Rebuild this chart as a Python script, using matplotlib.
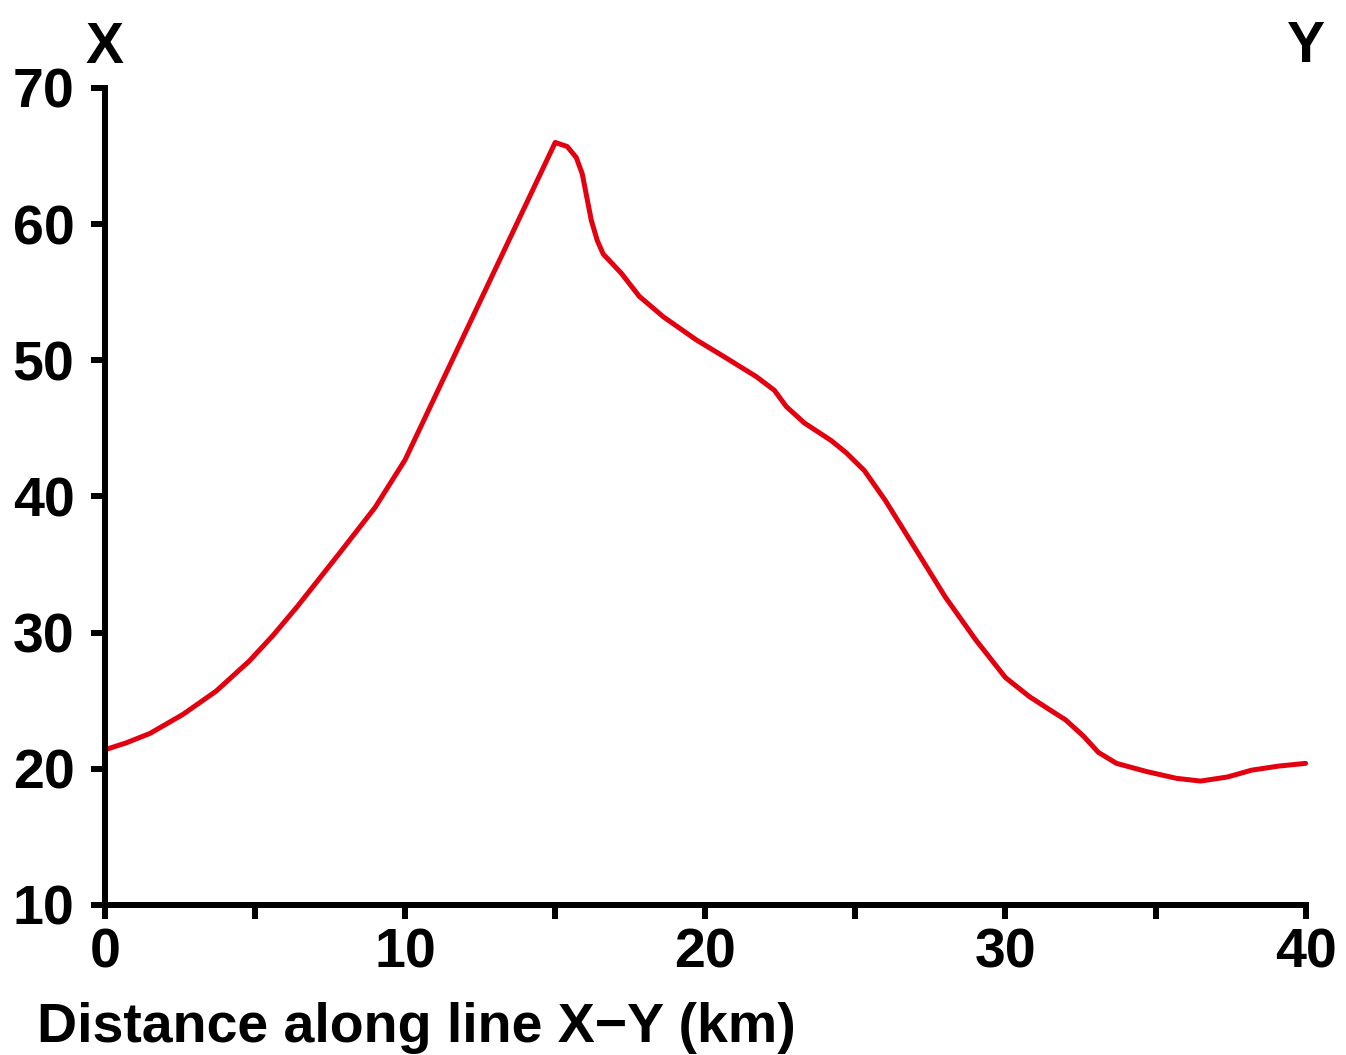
import matplotlib
matplotlib.use("Agg")
import matplotlib.pyplot as plt

distance_km = [0, 0.7, 1.5, 2.6, 3.7, 4.8, 5.6, 6.4, 7.8, 9.0, 10.0, 15.0,
               15.4, 15.7, 15.9, 16.05, 16.2, 16.4, 16.6, 17.2, 17.8, 18.6,
               19.7, 20.6, 21.7, 22.3, 22.7, 23.3, 24.2, 24.7, 25.3, 26.0,
               27.1, 28.0, 29.0, 30.0, 30.8, 31.5, 32.0, 32.6, 33.1, 33.7,
               34.7, 35.7, 36.5, 37.4, 38.2, 39.1, 40.0]
value = [21.4, 21.9, 22.6, 24.0, 25.7, 27.9, 29.8, 31.9, 35.8, 39.2, 42.7,
         66.0, 65.7, 64.9, 63.7, 62.0, 60.3, 58.8, 57.8, 56.4, 54.7, 53.2,
         51.5, 50.3, 48.8, 47.8, 46.6, 45.4, 44.1, 43.2, 41.9, 39.7, 35.8,
         32.6, 29.5, 26.7, 25.3, 24.3, 23.6, 22.4, 21.2, 20.4, 19.8, 19.3,
         19.1, 19.4, 19.9, 20.2, 20.4]
x_ticks = [0, 10, 20, 30, 40]
x_minor = [5, 15, 25, 35]
y_ticks = [10, 20, 30, 40, 50, 60, 70]

plt.rcParams['font.family'] = ['Liberation Sans', 'DejaVu Sans']
plt.rcParams['font.weight'] = 'bold'

fig = plt.figure(figsize=(13.46, 10.55), dpi=100)
ax = fig.add_axes([0.078, 0.1422, 0.892, 0.7744])
ax.plot(distance_km, value, color='#e3000f', lw=3.6, solid_joinstyle='round',
        solid_capstyle='round', clip_on=False)
ax.set_xlim(0, 40)
ax.set_ylim(10, 70)
for s in ['top', 'right']:
    ax.spines[s].set_visible(False)
for s in ['left', 'bottom']:
    ax.spines[s].set_linewidth(4.3)
ax.set_xticks(x_ticks)
ax.set_xticks(x_minor, minor=True)
ax.set_yticks(y_ticks)
ax.tick_params(axis='both', which='both', direction='out', width=4.3, length=10,
               labelsize=40)
ax.tick_params(axis='x', which='major', pad=6)
ax.tick_params(axis='y', which='major', pad=12)
for lab in ax.get_xticklabels() + ax.get_yticklabels():
    lab.set_fontweight('bold')
ax.set_xlabel('Distance along line X\u2212Y (km)', fontsize=40, fontweight='bold')
ax.xaxis.set_label_coords(-0.057, -0.119)
ax.xaxis.label.set_horizontalalignment('left')
fig.text(105 / 1346, 1 - 63 / 1055, 'X', fontsize=41, fontweight='bold',
         ha='center', va='baseline')
fig.text(1306 / 1346, 1 - 62 / 1055, 'Y', fontsize=41, fontweight='bold',
         ha='center', va='baseline')
fig.savefig('out.png', dpi=100)
